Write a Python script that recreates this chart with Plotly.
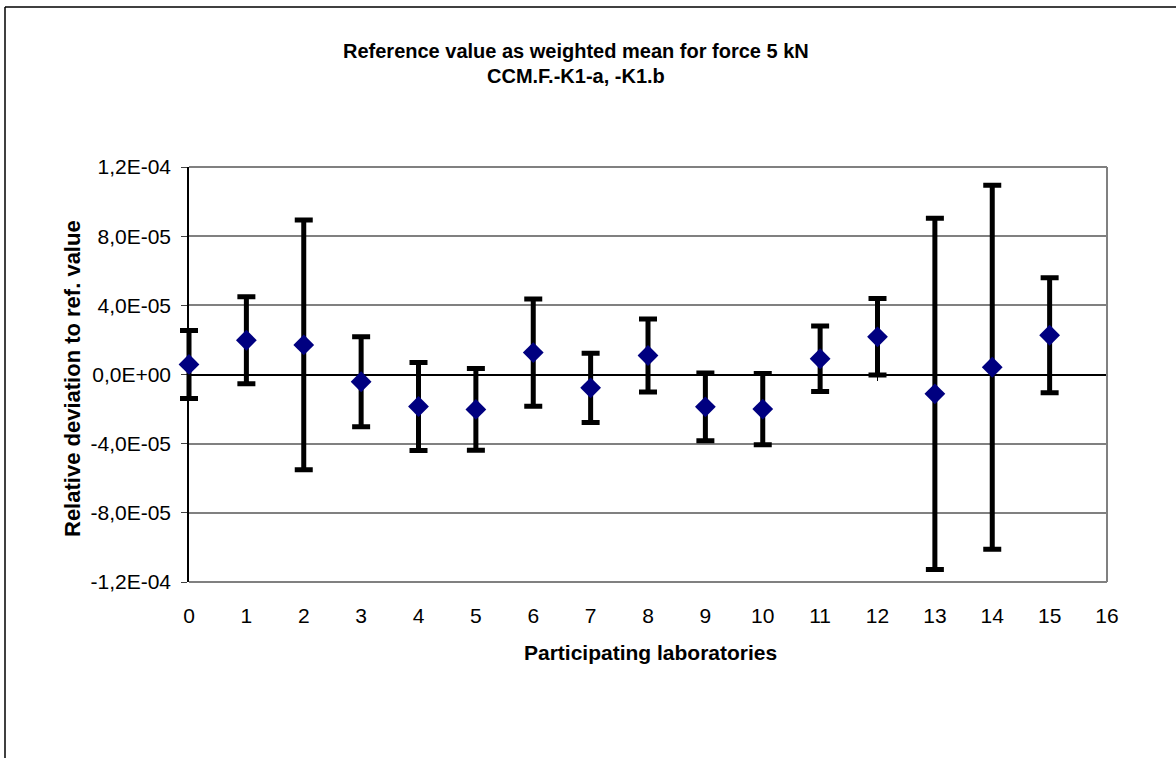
import plotly.graph_objects as go

labs = list(range(16))
deviation = [0.58e-5, 1.98e-5, 1.71e-5, -0.42e-5, -1.85e-5, -2.02e-5, 1.27e-5, -0.77e-5,
             1.10e-5, -1.87e-5, -2.00e-5, 0.91e-5, 2.18e-5, -1.12e-5, 0.42e-5, 2.27e-5]
uncert = [1.97e-5, 2.52e-5, 7.22e-5, 2.60e-5, 2.55e-5, 2.36e-5, 3.10e-5, 2.00e-5,
          2.11e-5, 1.96e-5, 2.06e-5, 1.90e-5, 2.21e-5, 10.15e-5, 10.52e-5, 3.32e-5]
y_tickvals = [1.2e-4, 8e-5, 4e-5, 0, -4e-5, -8e-5, -1.2e-4]
y_ticktext = ["1,2E-04", "8,0E-05", "4,0E-05", "0,0E+00", "-4,0E-05", "-8,0E-05", "-1,2E-04"]
x_tickvals = list(range(17))
x_range = [0, 16]
y_range = [-1.2e-4, 1.2e-4]

FONT = "Liberation Sans, Arial, sans-serif"
W, H = 1176, 758
L, R, T, B = 160, 69, 167, 176
AX_LEFT = 189          # pixel where the x axis starts (value 0)
PW = W - L - R
PH = H - T - B
unit = (W - R - AX_LEFT) / (x_range[1] - x_range[0])
x_wide = [x_range[0] - (AX_LEFT - L) / unit, x_range[1]]

def px_x(px):
    return (px - L) / PW

def px_y(py):
    return (H - B - py) / PH

fig = go.Figure()
# grid / zero-line subplot (x, y)
fig.add_trace(go.Scatter(x=labs, y=deviation, mode="markers", xaxis="x", yaxis="y",
                         marker=dict(opacity=0), showlegend=False, hoverinfo="skip"))
# data subplot (x2, y2): wider domain so the first point is not clipped
fig.add_trace(go.Scatter(
    x=labs, y=deviation, mode="markers", xaxis="x2", yaxis="y2", cliponaxis=False,
    marker=dict(symbol="diamond", size=16, color="#000080", line=dict(width=0)),
    error_y=dict(type="data", array=uncert, visible=True, color="black",
                 thickness=5, width=9),
    showlegend=False, hoverinfo="x+y",
))

fig.update_layout(
    width=W, height=H,
    margin=dict(l=L, r=R, t=T, b=B),
    paper_bgcolor="white", plot_bgcolor="rgba(0,0,0,0)",
    font=dict(family=FONT, size=21, color="black"),
    xaxis=dict(domain=[px_x(AX_LEFT), 1], range=x_range, anchor="free", position=0.5,
               side="bottom", tickvals=x_tickvals, ticks="outside", ticklen=6,
               tickcolor="black", tickwidth=1, showticklabels=False,
               showline=True, linecolor="black", linewidth=1.5,
               showgrid=False, zeroline=False),
    yaxis=dict(domain=[0, 1], anchor="x", range=y_range, tickvals=y_tickvals,
               ticktext=y_ticktext, ticks="outside", ticklen=6, tickcolor="#404040",
               tickwidth=1, showgrid=True, gridcolor="#808080", gridwidth=1.5,
               zeroline=False, showline=True, linecolor="black", linewidth=1.5,
               tickfont=dict(size=21), ticklabelstandoff=6),
    xaxis2=dict(domain=[0, 1], anchor="y2", range=x_wide, tickvals=x_tickvals,
                ticks="", showgrid=False, zeroline=False, showline=False,
                tickfont=dict(size=21), ticklabelstandoff=19),
    yaxis2=dict(domain=[0, 1], anchor="x2", range=y_range, visible=False,
                showgrid=False, zeroline=False),
    shapes=[
        # plot-area border (top, right, bottom) in grey
        dict(type="line", xref="paper", yref="paper",
             x0=px_x(AX_LEFT), x1=1, y0=1, y1=1, line=dict(color="#808080", width=2)),
        dict(type="line", xref="paper", yref="paper",
             x0=1, x1=1, y0=0, y1=1, line=dict(color="#808080", width=2)),
        dict(type="line", xref="paper", yref="paper",
             x0=px_x(AX_LEFT), x1=1, y0=0, y1=0, line=dict(color="#808080", width=2)),
        # chart-area frame (left and top)
        dict(type="line", xref="paper", yref="paper",
             x0=px_x(5), x1=px_x(5), y0=px_y(7), y1=px_y(H),
             line=dict(color="black", width=1.5), layer="below"),
        dict(type="line", xref="paper", yref="paper",
             x0=px_x(5), x1=px_x(W), y0=px_y(7), y1=px_y(7),
             line=dict(color="black", width=1.5), layer="below"),
    ],
    annotations=[
        dict(text="<b>Reference value as weighted mean for force 5 kN</b>",
             xref="paper", yref="paper", x=px_x(576), y=px_y(51),
             xanchor="center", yanchor="middle", showarrow=False,
             font=dict(size=20, family=FONT)),
        dict(text="<b>CCM.F.-K1-a, -K1.b</b>",
             xref="paper", yref="paper", x=px_x(576), y=px_y(76),
             xanchor="center", yanchor="middle", showarrow=False,
             font=dict(size=20, family=FONT)),
        dict(text="<b>Participating laboratories</b>",
             xref="paper", yref="paper", x=px_x(650), y=px_y(652),
             xanchor="center", yanchor="middle", showarrow=False,
             font=dict(size=21, family=FONT)),
        dict(text="<b>Relative deviation to ref. value</b>",
             xref="paper", yref="paper", x=px_x(72), y=px_y(379),
             xanchor="center", yanchor="middle", showarrow=False, textangle=-90,
             font=dict(size=22, family=FONT)),
    ],
)

fig.write_html("out.html")
